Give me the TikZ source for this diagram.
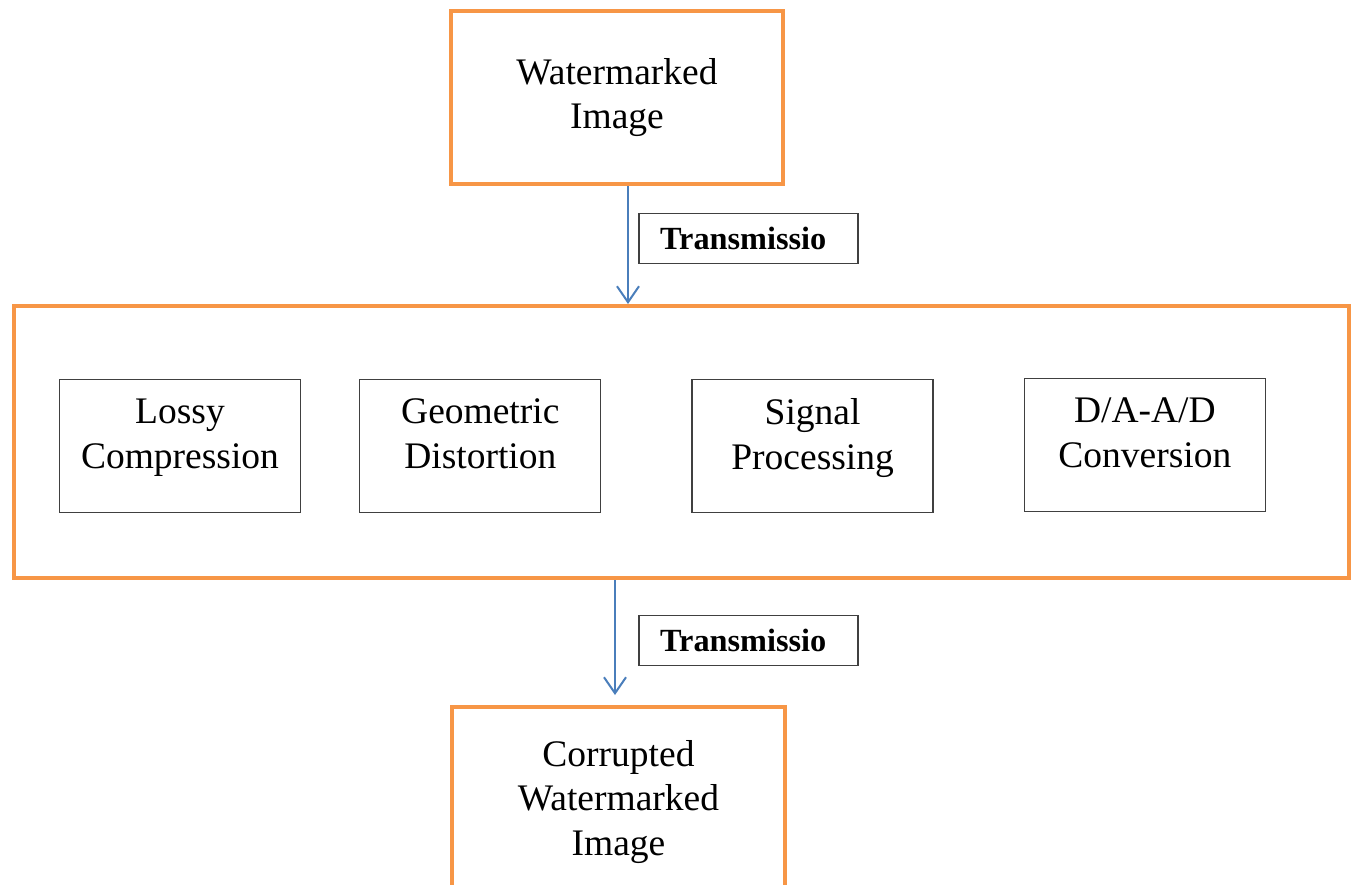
\documentclass[tikz,border=0pt]{standalone}
\usepackage{fontspec}
\setmainfont{Liberation Serif}
\usetikzlibrary{arrows.meta,positioning}
\definecolor{orange}{HTML}{F79646}
\definecolor{blue}{HTML}{4A7EBB}
\definecolor{ink}{HTML}{404040}
\tikzset{
  stagebox/.style={draw=orange, line width=4pt, fill=white, align=center, inner sep=0pt, font=\fontsize{37.5}{44.5}\selectfont},
  attackbox/.style={draw=ink, line width=1.3pt, fill=white, align=center, inner sep=0pt, minimum width=241pt, minimum height=133pt, font=\fontsize{37.5}{44.5}\selectfont},
  tagbox/.style={draw=ink, line width=1.2pt, text width=177pt, align=left, inner xsep=21pt, minimum height=50pt, font=\fontsize{32.3}{36}\selectfont\bfseries},
  arrow/.style={-{Straight Barb[length=16pt,width=22pt]}, line width=2pt, draw=blue}
}
\begin{document}
\begin{tikzpicture}[x=1pt,y=-1pt]
\useasboundingbox (0,0) rectangle (1357,884);
\node[stagebox, minimum width=332pt, minimum height=173pt] (wm) at (617,97.5) {Watermarked\\Image};
\node[stagebox, minimum width=1335pt, minimum height=272pt] (channel) at (681.5,442) {};
\node[stagebox, minimum width=333pt, minimum height=190pt] (cwm) at (618.5,802) {Corrupted\\Watermarked\\Image};
% attacks in the channel
\node[attackbox] (lossy) at (180,446) {Lossy\\Compression\\[-20pt]};
\node[attackbox, right=58pt of lossy] (geo) {Geometric\\Distortion\\[-20pt]};
\node[attackbox, right=90pt of geo] (signal) {Signal\\Processing\\[-20pt]};
\node[attackbox, right=90pt of signal, yshift=1pt] (dad) {D/A-A/D\\Conversion\\[-20pt]};
% transmission steps
\node[tagbox] (tx1) at (748.5,238.5) {Transmissio};
\node[tagbox] (tx2) at (748.5,640.5) {Transmissio};
\draw[arrow] ([xshift=11pt]wm.south) -- ([xshift=11pt]wm.south |- channel.north);
\draw[arrow, shorten >=10pt] ([xshift=-66.5pt]channel.south) -- ([xshift=-66.5pt]channel.south |- cwm.north);
\end{tikzpicture}
\end{document}
